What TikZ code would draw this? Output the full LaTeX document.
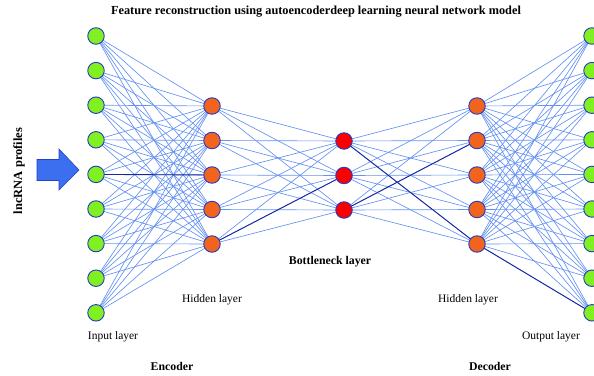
\documentclass[tikz,border=0pt]{standalone}
\usepackage{fontspec}
\setmainfont{Liberation Serif}
\definecolor{nodeedge}{RGB}{40,60,190}
\definecolor{ingreen}{RGB}{128,240,32}
\definecolor{hidorange}{RGB}{242,100,30}
\definecolor{neckred}{RGB}{250,0,0}
\definecolor{linkblue}{RGB}{100,145,245}
\definecolor{strongblue}{RGB}{25,40,160}
\definecolor{arrowfill}{RGB}{60,110,240}
\definecolor{arrowedge}{RGB}{35,65,200}
\tikzset{
  neuron/.style={circle, draw=nodeedge, line width=0.9pt, minimum size=16.5pt, inner sep=0pt},
  innode/.style={neuron, fill=ingreen},
  hidnode/.style={neuron, fill=hidorange},
  necknode/.style={neuron, fill=neckred},
  link/.style={draw=linkblue, line width=0.65pt},
  strong/.style={draw=strongblue, line width=0.9pt},
  lbl/.style={font=\fontsize{11.5}{13}\selectfont, inner sep=0pt},
  blbl/.style={font=\bfseries\fontsize{11.8}{13}\selectfont, inner sep=0pt}
}
\begin{document}
\begin{tikzpicture}[x=1pt, y=-1pt]
\clip (0,0) rectangle (594,375);
\fill[white] (0,0) rectangle (594,375);

% layers
\foreach \i in {1,...,9} {
  \coordinate (I\i) at (96, {36+34.6*(\i-1)});
  \coordinate (O\i) at (592, {36+34.6*(\i-1)});
}
\foreach \j in {1,...,5} {
  \coordinate (H\j) at (212, {106+34.5*(\j-1)});
  \coordinate (D\j) at (477, {106+34.5*(\j-1)});
}
\foreach \k in {1,...,3} {
  \coordinate (B\k) at (344, {141+34.5*(\k-1)});
}

% full connections
\foreach \i in {1,...,9} \foreach \j in {1,...,5} {
  \draw[link] (I\i) -- (H\j);
  \draw[link] (D\j) -- (O\i);
}
\foreach \j in {1,...,5} \foreach \k in {1,...,3} {
  \draw[link] (H\j) -- (B\k);
  \draw[link] (B\k) -- (D\j);
}

% highlighted paths
\draw[strong] (I5) -- (H3);
\draw[strong] (H5) -- (B2);
\draw[strong] (B1) -- (D5);
\draw[strong] (D5) -- (O9);
\draw[strong] (B3) -- (D2);

% neurons
\foreach \i in {1,...,9} {
  \node[innode] (in\i) at (I\i) {};
  \node[innode] (out\i) at (O\i) {};
}
\foreach \j in {1,...,5} {
  \node[hidnode] (enc\j) at (H\j) {};
  \node[hidnode] (dec\j) at (D\j) {};
}
\foreach \k in {1,...,3} {
  \node[necknode] (neck\k) at (B\k) {};
}

% input block arrow
\draw[draw=arrowedge, fill=arrowfill, line width=0.6pt, line join=miter]
  (37,159.5) -- (59,159.5) -- (59,149) -- (79,170) -- (59,190) -- (59,180.5)
  -- (37,180.5) -- cycle;
\node[blbl, font=\bfseries\fontsize{12.5}{13}\selectfont, rotate=90] (profiles) at (19,171) {lncRNA profiles};

% texts
\node[blbl, font=\bfseries\fontsize{12.3}{13}\selectfont] (title) at (316,12) {Feature reconstruction using autoencoderdeep learning neural network model};
\node[blbl] (neckname) at (330,262) {Bottleneck layer};
\node[lbl] (hidl) at (212,300) {Hidden layer};
\node[lbl] (hidr) at (468,300) {Hidden layer};
\node[lbl] (inl) at (113,337) {Input layer};
\node[lbl] (outl) at (551,337) {Output layer};
\node[blbl] (enc) at (172,366) {Encoder};
\node[blbl] (dec) at (490,366) {Decoder};
\end{tikzpicture}
\end{document}
